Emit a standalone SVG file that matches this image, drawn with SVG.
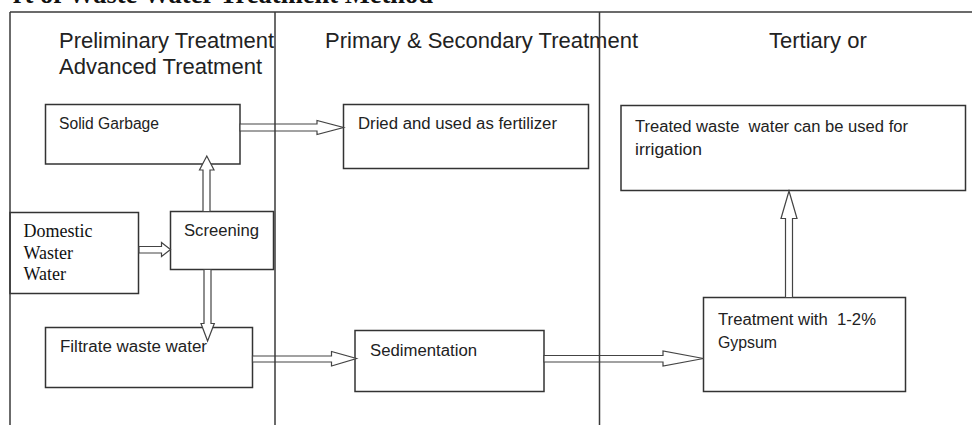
<svg xmlns="http://www.w3.org/2000/svg" width="972" height="425" viewBox="0 0 972 425">
<style>
.box{fill:#fff;stroke:#333;stroke-width:1.5}
.frame{stroke:#3a3a3a;stroke-width:1.5;fill:none}
.arr{fill:#fff;stroke:#444;stroke-width:1.2;stroke-linejoin:miter}
.hd{font-family:"Liberation Sans",Arial,sans-serif;font-size:22px;fill:#222}
.lb{font-family:"Liberation Sans",Arial,sans-serif;font-size:16px;fill:#222;white-space:pre}
.sf{font-family:"Liberation Serif","Times New Roman",serif;font-size:18px;fill:#111}
.tt{font-family:"Liberation Serif","Times New Roman",serif;font-size:26.5px;font-weight:bold;fill:#111}
</style>
<rect width="972" height="425" fill="#fff"/>
<text class="tt" x="433" y="3" text-anchor="end">rt of Waste Water Treatment Method</text>
<g id="headers">
<text class="hd" x="59" y="48">Preliminary Treatment</text>
<text class="hd" x="59" y="73.5">Advanced Treatment</text>
<text class="hd" x="325" y="48">Primary &amp; Secondary Treatment</text>
<text class="hd" x="769" y="48">Tertiary or</text>
</g>
<g id="solid-garbage">
<rect class="box" x="45.5" y="104.5" width="194.5" height="59.5"/>
<text class="lb" x="59" y="128.5" textLength="100" lengthAdjust="spacingAndGlyphs">Solid Garbage</text>
</g>
<g id="dried">
<rect class="box" x="343.5" y="104.5" width="245" height="64"/>
<text class="lb" x="358" y="128.5" textLength="199" lengthAdjust="spacingAndGlyphs">Dried and used as fertilizer</text>
</g>
<g id="treated">
<rect class="box" x="621" y="105.5" width="344.5" height="85"/>
<text class="lb" x="635" y="131.5" textLength="273" lengthAdjust="spacingAndGlyphs">Treated waste  water can be used for</text>
<text class="lb" x="635" y="154.5" textLength="67" lengthAdjust="spacingAndGlyphs">irrigation</text>
</g>
<g id="domestic">
<rect class="box" x="10" y="212.5" width="128.5" height="81"/>
<text class="sf" x="23.5" y="237">Domestic</text>
<text class="sf" x="23.5" y="258.5">Waster</text>
<text class="sf" x="23.5" y="280">Water</text>
</g>
<g id="screening">
<rect class="box" x="170.5" y="211.5" width="103" height="58"/>
<text class="lb" x="184" y="236" textLength="75" lengthAdjust="spacingAndGlyphs">Screening</text>
</g>
<g id="filtrate">
<rect class="box" x="45.5" y="327.5" width="207" height="60"/>
<text class="lb" x="60" y="352" textLength="147" lengthAdjust="spacingAndGlyphs">Filtrate waste water</text>
</g>
<g id="sedimentation">
<rect class="box" x="355" y="330.5" width="189" height="61"/>
<text class="lb" x="370" y="355.5" textLength="107" lengthAdjust="spacingAndGlyphs">Sedimentation</text>
</g>
<g id="treatment">
<rect class="box" x="703.5" y="297.5" width="202" height="94"/>
<text class="lb" x="718" y="324.5" textLength="158" lengthAdjust="spacingAndGlyphs">Treatment with  1-2%</text>
<text class="lb" x="718" y="348" textLength="59" lengthAdjust="spacingAndGlyphs">Gypsum</text>
</g>
<g id="connectors">
<polygon class="arr" points="139,246.5 161.5,246.5 161.5,242.5 170.5,249.5 161.5,256.5 161.5,253 139,253"/>
<polygon class="arr" points="203,211.5 203,170 199.5,170 206.8,156 214,170 210,170 210,211.5"/>
<polygon class="arr" points="204,269.5 204,323.5 201,323.5 207.6,341 214.3,323.5 211,323.5 211,269.5"/>
<polygon class="arr" points="240,124 317,124 317,120.5 343.5,127.5 317,134.5 317,131 240,131"/>
<polygon class="arr" points="252.5,356 331.5,356 331.5,351.5 356.5,358.5 331.5,366 331.5,362 252.5,362"/>
<polygon class="arr" points="544,355.5 663,355.5 663,351 703.5,358.5 663,366 663,362 544,362"/>
<polygon class="arr" points="785.5,297.5 785.5,218.5 781,218.5 789,191 797,218.5 792.5,218.5 792.5,297.5"/>
</g>
<g id="frame">
<line class="frame" x1="10" y1="12" x2="972" y2="12"/>
<line class="frame" x1="10" y1="12" x2="10" y2="425"/>
<line class="frame" x1="275" y1="12" x2="275" y2="425"/>
<line class="frame" x1="599.5" y1="12" x2="599.5" y2="425" stroke="#555" stroke-width="2"/>
</g>
</svg>
